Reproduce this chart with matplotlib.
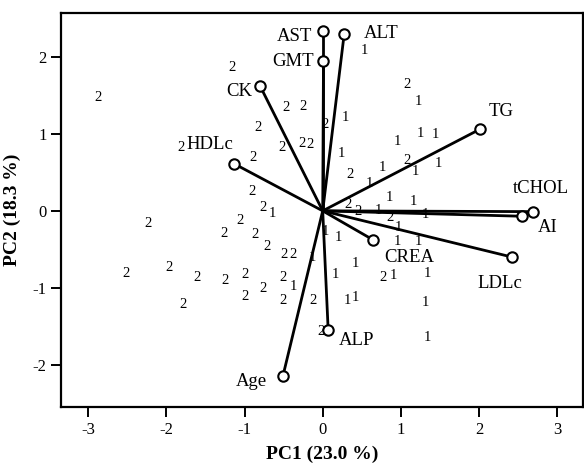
import matplotlib
matplotlib.use("Agg")
import matplotlib.pyplot as plt

plt.rcParams['font.family'] = ['Liberation Serif', 'DejaVu Serif']
plt.rcParams['axes.unicode_minus'] = False

# Scores, group 1
g1_x = [0.54, 1.22, 0.29, 1.25, 1.44, 0.95, 0.24, 1.19, 0.77, 1.48, 0.60, 0.86, 1.16, 0.71,
        1.31, 0.97, 0.03, 0.20, 0.42, 0.16, 0.90, 0.31, 0.42, 1.31, 1.34, 1.34, -0.64, -0.38,
        -0.13, 0.95, 1.22]
g1_y = [2.09, 1.42, 1.22, 1.01, 0.99, 0.90, 0.75, 0.51, 0.56, 0.62, 0.36, 0.17, 0.12, 0.01,
        -0.05, -0.22, -0.27, -0.34, -0.68, -0.83, -0.84, -1.16, -1.12, -1.19, -1.64, -0.81, -0.03, -0.98,
        -0.61, -0.40, -0.40]
# Scores, group 2
g2_x = [-2.88, -1.16, -0.47, -0.25, -0.83, -1.82, -0.52, -0.27, -0.16, -0.89, -0.90, -0.77,
        -1.06, -2.24, -1.27, -0.87, -0.71, -0.50, -0.38, -1.97, -2.52, -1.61, -1.25, -0.99,
        -0.51, -0.77, -0.99, -0.51, -0.12, -1.79, -0.02, 0.03, 1.08, 1.08, 0.35, 0.33, 0.45,
        0.86, 0.77]
g2_y = [1.48, 1.87, 1.35, 1.36, 1.09, 0.83, 0.83, 0.88, 0.86, 0.70, 0.25, 0.04,
        -0.12, -0.16, -0.29, -0.31, -0.46, -0.57, -0.57, -0.73, -0.81, -0.87, -0.90, -0.83,
        -0.86, -1.01, -1.11, -1.17, -1.17, -1.22, -1.57, 1.12, 1.64, 0.65, 0.47, 0.08, -0.01,
        -0.09, -0.87]

# Loadings
var_names = ['AST', 'GMT', 'ALT', 'CK', 'HDLc', 'TG', 'tCHOL', 'AI', 'LDLc', 'CREA', 'ALP', 'Age']
var_x = [0.00, 0.01, 0.275, -0.80, -1.13, 2.01, 2.69, 2.55, 2.42, 0.65, 0.07, -0.51]
var_y = [2.34, 1.95, 2.30, 1.62, 0.61, 1.06, -0.01, -0.07, -0.60, -0.38, -1.55, -2.15]
lab_x = [-0.13, -0.11, 0.52, -0.90, -1.15, 2.12, 2.80, 2.76, 2.27, 1.11, 0.20, -0.71]
lab_y = [2.27, 1.94, 2.31, 1.55, 0.86, 1.29, 0.29, -0.22, -0.94, -0.60, -1.68, -2.22]
lab_ha = ['right', 'right', 'left', 'right', 'right', 'left', 'center', 'left', 'center',
          'center', 'left', 'right']

fig = plt.figure(figsize=(5.84, 4.70), dpi=100)
ax = fig.add_axes([0.1045, 0.134, 0.8935, 0.838])

for x, y in zip(g1_x, g1_y):
    ax.text(x, y, '1', fontsize=10.5, ha='center', va='center', zorder=2)
for x, y in zip(g2_x, g2_y):
    ax.text(x, y, '2', fontsize=10.5, ha='center', va='center', zorder=2)

for x, y in zip(var_x, var_y):
    ax.plot([0, x], [0, y], color='black', lw=2.0, zorder=3, solid_capstyle='butt')
    ax.plot([x], [y], 'o', mfc='white', mec='black', mew=1.5, ms=7.5, zorder=4)

for name, x, y, ha in zip(var_names, lab_x, lab_y, lab_ha):
    ax.text(x, y, name, fontsize=13.5, ha=ha, va='center', zorder=5,
            bbox=dict(facecolor='white', edgecolor='none', pad=0.3))

ax.set_xlim(-3.35, 3.33)
ax.set_ylim(-2.55, 2.57)
ax.set_xticks([-3, -2, -1, 0, 1, 2, 3])
ax.set_yticks([-2, -1, 0, 1, 2])
ax.tick_params(direction='out', length=7.5, width=1.4, labelsize=12, pad=3)
for s in ax.spines.values():
    s.set_linewidth(1.6)

ax.set_xlabel('PC1 (23.0 %)', fontsize=14, fontweight='bold', labelpad=6)
ax.set_ylabel('PC2 (18.3 %)', fontsize=14, fontweight='bold', labelpad=8)

fig.savefig('out.png', dpi=100)
